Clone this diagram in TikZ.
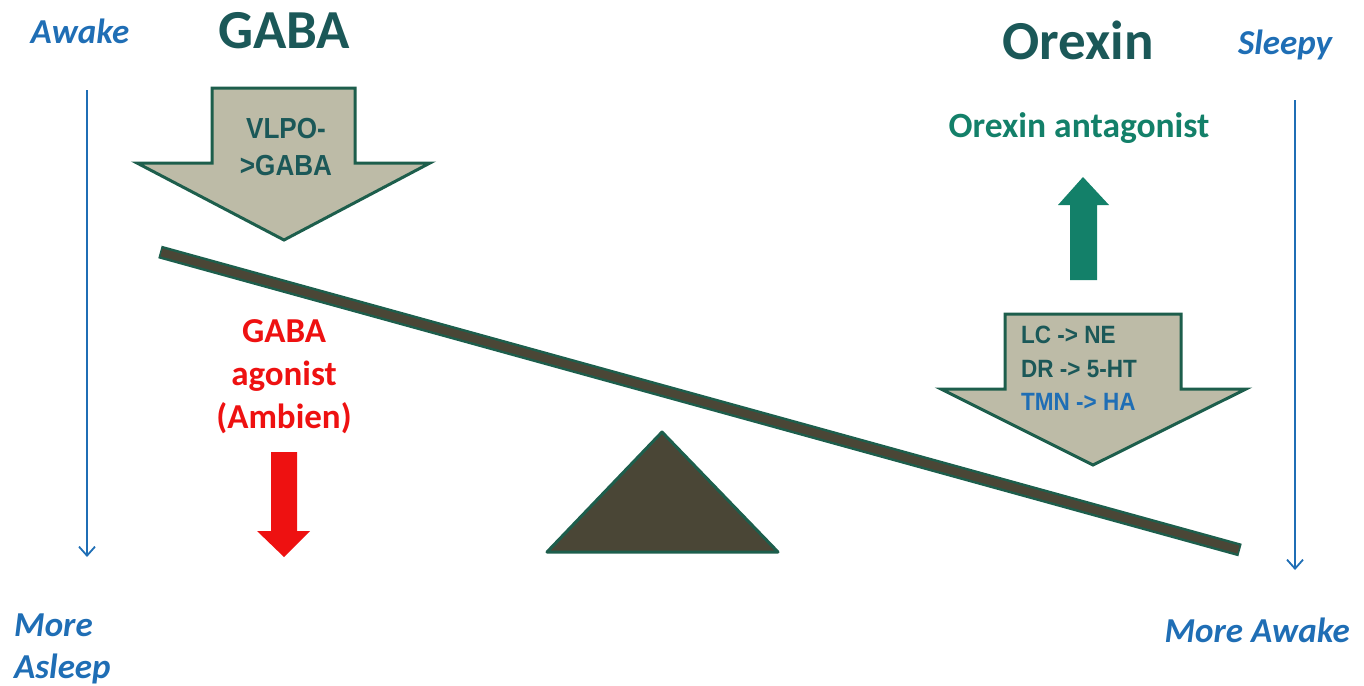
\documentclass[tikz,border=0pt]{standalone}
\usepackage{fontspec}
\setmainfont{Carlito}
\newfontfamily\narrowfont[FakeStretch=0.9]{Liberation Sans}
\usetikzlibrary{arrows.meta}

\definecolor{tealtext}{HTML}{1B5858}
\definecolor{scaleblue}{HTML}{1F6EB5}
\definecolor{agonistred}{HTML}{EE1111}
\definecolor{antagreen}{HTML}{138069}
\definecolor{blockfill}{HTML}{BDBBA7}
\definecolor{blockedge}{HTML}{1D5E4C}
\definecolor{beamfill}{HTML}{4A4636}

\tikzset{
  scalelabel/.style={font=\fontsize{35}{42}\selectfont\bfseries\itshape, text=scaleblue, inner sep=0pt},
  heading/.style={font=\fontsize{55}{60}\selectfont\bfseries, text=tealtext, inner sep=0pt},
  scalearrow/.style={draw=scaleblue, line width=1.8pt, -{Straight Barb[length=9pt,width=16pt,line width=1.8pt]}},
  blockarrow/.style={fill=blockfill, draw=blockedge, line width=3pt, line join=miter},
  blocktext/.style={font=\narrowfont\fontsize{29}{37}\selectfont\bfseries, text=tealtext, inner sep=0pt},
}

\begin{document}
\begin{tikzpicture}[x=1pt, y=-1pt]
\useasboundingbox (0,0) rectangle (1364,685);

% ---- left scale: awake -> more asleep
\node[scalelabel] (awake) at (80,31) {Awake};
\coordinate (lefttop) at (87,90);
\coordinate (leftbot) at (87,557);
\draw[scalearrow] (lefttop) -- (leftbot);
\node[scalelabel, align=left, anchor=base west] (asleep) at (14,678) {More\\Asleep};

% ---- right scale: sleepy -> more awake
\node[scalelabel] (sleepy) at (1285,45) {Sleepy};
\coordinate (righttop) at (1295,100);
\coordinate (rightbot) at (1295,570);
\draw[scalearrow] (righttop) -- (rightbot);
\node[scalelabel, anchor=east] (moreawake) at (1350,630) {More Awake};

% ---- headings
\node[heading] (gaba) at (284,31) {GABA};
\node[heading] (orexin) at (1078,40) {Orexin};

% ---- VLPO block arrow
\draw[blockarrow] (212,88) -- (355,88) -- (355,163) -- (430,163) -- (284,240)
  -- (137,163) -- (212,163) -- cycle;
\node[blocktext, align=center] (vlpo) at (286,147) {VLPO-\\>GABA};

% ---- seesaw beam and fulcrum
\coordinate (beamL) at (160,252);
\coordinate (beamR) at (1240,550);
\draw[blockedge, line width=13pt] (beamL) -- (beamR);
\draw[beamfill, line width=8pt, shorten <=1.5pt, shorten >=1.5pt] (beamL) -- (beamR);
\draw[fill=beamfill, draw=blockedge, line width=3pt, line join=round] (662,432) -- (778,552) -- (547,552) -- cycle;

% ---- GABA agonist
\node[font=\fontsize{35}{43}\selectfont\bfseries, text=agonistred, align=center, inner sep=0pt] (agonist) at (284,377) {GABA\\agonist\\(Ambien)};
\fill[agonistred] (271,452) -- (297,452) -- (297,531) -- (310,531) -- (284,557)
  -- (257,531) -- (271,531) -- cycle;

% ---- orexin antagonist
\node[font=\fontsize{35.5}{40}\selectfont\bfseries, text=antagreen, inner sep=0pt] (antagonist) at (1079,128) {Orexin antagonist};
\fill[antagreen] (1070,280) -- (1097,280) -- (1097,205) -- (1109,205) -- (1083,177)
  -- (1058,205) -- (1070,205) -- cycle;

% ---- arousal system block arrow
\draw[blockarrow] (1005,314) -- (1181,314) -- (1181,389) -- (1246,389) -- (1093,465)
  -- (941,389) -- (1005,389) -- cycle;
\node[blocktext, anchor=north west, align=left, font=\narrowfont\fontsize{25}{33.5}\selectfont\bfseries] (monoamines) at (1021,326)
  {LC -> NE\\DR -> 5-HT\\\textcolor{scaleblue}{TMN -> HA}};
\end{tikzpicture}
\end{document}
